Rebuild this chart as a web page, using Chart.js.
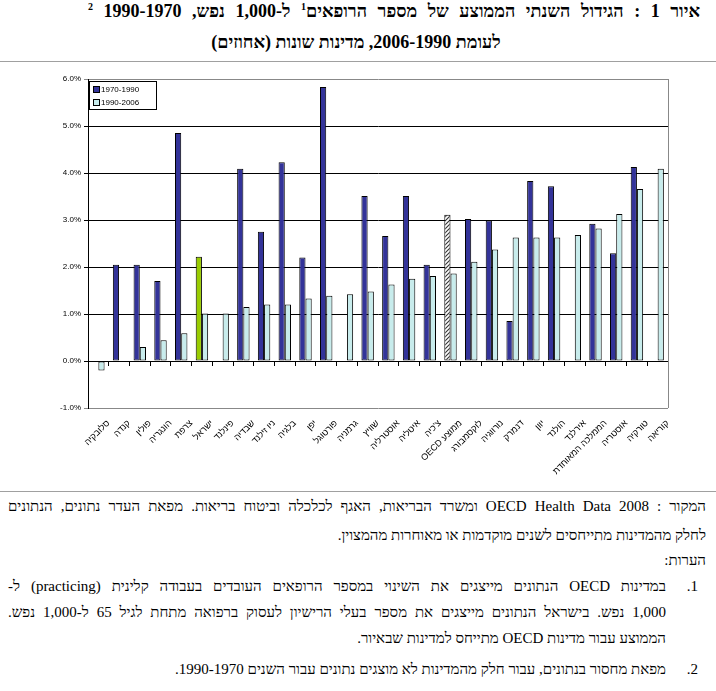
<!DOCTYPE html>
<html>
<head>
<meta charset="utf-8">
<script src="https://cdn.jsdelivr.net/npm/chart.js@4.4.0/dist/chart.umd.min.js"></script>
<style>
body{margin:0;width:716px;height:691px;background:#fff;position:relative;overflow:hidden;font-family:"Liberation Serif","DejaVu Serif",serif;color:#000}
.t{position:absolute;white-space:nowrap}
.j{position:absolute;text-align:justify;text-align-last:justify;white-space:nowrap}
.rule{position:absolute;left:0;width:716px;height:1px;background:#a0a0a0}
#box{position:absolute;left:0;top:62px;width:716px;height:428px}
.title{font-weight:bold;font-size:18px}
.body{font-size:15px}
</style>
</head>
<body>
<div class="j title" dir="rtl" style="left:88px;width:612px;top:1px">איור 1 : הגידול השנתי הממוצע של מספר הרופאים<sup style="font-size:10px">1</sup> ל-1,000 נפש, 1970&#x200F;-&#x200F;1990 <sup style="font-size:10px">2</sup></div>
<div class="t title" dir="rtl" style="left:0;width:712px;text-align:center;top:32px">לעומת 1990&#x200F;-&#x200F;2006, מדינות שונות (אחוזים)</div>
<div class="rule" style="top:61px"></div>
<div id="box"><canvas id="chart"></canvas></div>
<div class="rule" style="top:491px"></div>

<div class="j body" dir="rtl" style="left:8px;width:698px;top:498px">המקור : OECD Health Data 2008 ומשרד הבריאות, האגף לכלכלה וביטוח בריאות. מפאת העדר נתונים, הנתונים</div>
<div class="t body" dir="rtl" style="right:10px;top:527px">לחלק מהמדינות מתייחסים לשנים מוקדמות או מאוחרות מהמצוין.</div>
<div class="t body" dir="rtl" style="right:10px;top:552px">הערות:</div>
<div class="t body" dir="rtl" style="right:18px;top:578px">1.</div>
<div class="j body" dir="rtl" style="left:8px;width:658px;top:578px">במדינות OECD הנתונים מייצגים את השינוי במספר הרופאים העובדים בעבודה קלינית (practicing) ל-</div>
<div class="j body" dir="rtl" style="left:8px;width:658px;top:604px">1,000 נפש. בישראל הנתונים מייצגים את מספר בעלי הרישיון לעסוק ברפואה מתחת לגיל 65 ל-1,000 נפש.</div>
<div class="t body" dir="rtl" style="right:50px;top:630px">הממוצע עבור מדינות OECD מתייחס למדינות שבאיור.</div>
<div class="t body" dir="rtl" style="right:18px;top:661px">2.</div>
<div class="t body" dir="rtl" style="right:50px;top:661px">מפאת מחסור בנתונים, עבור חלק מהמדינות לא מוצגים נתונים עבור השנים 1970&#x200F;-&#x200F;1990.</div>

<script>
// countries, sorted by the 1990-2006 growth
var categories = ['סלובקיה', 'קנדה', 'פולין', 'הונגריה', 'צרפת', 'ישראל', 'פינלנד', 'שבדיה', 'ניו זילנד', 'בלגיה',
	'יפן', 'פורטוגל', 'גרמניה', 'שוויץ', 'אוסטרליה', 'איטליה', 'צ\'כיה', 'ממוצע OECD', 'לוקסמבורג', 'נורווגיה',
	'דנמרק', 'יוון', 'הולנד', 'אירלנד', 'הממלכה המאוחדת', 'אוסטריה', 'טורקיה', 'קוריאה'];

// average yearly growth (%)
var growth7090 = [null, 2.05, 2.05, 1.70, 4.85, 2.22, null, 4.09, 2.75, 4.23,
	2.20, 5.83, null, 3.51, 2.66, 3.51, 2.05, 3.11, 3.02, 2.99,
	0.85, 3.83, 3.72, null, 2.92, 2.29, 4.13, null];
var growth9006 = [-0.20, null, 0.30, 0.44, 0.59, 1.01, 1.01, 1.15, 1.20, 1.20,
	1.33, 1.39, 1.42, 1.48, 1.63, 1.75, 1.81, 1.86, 2.11, 2.37,
	2.63, 2.63, 2.63, 2.68, 2.82, 3.13, 3.66, 4.09];

var seriesNames = ['1970-1990', '1990-2006'];
var yTicks = [-1, 0, 1, 2, 3, 4, 5, 6];

var NAVY = '#333399';
var CYAN = '#c8ecec';
var GREEN = '#99cc00';

function hatch() {
	var c = document.createElement('canvas');
	c.width = 4; c.height = 4;
	var g = c.getContext('2d');
	g.fillStyle = '#fff';
	g.fillRect(0, 0, 4, 4);
	g.strokeStyle = '#333';
	g.lineWidth = 1.1;
	g.beginPath();
	g.moveTo(0, 4); g.lineTo(4, 0);
	g.moveTo(-1, 1); g.lineTo(1, -1);
	g.moveTo(3, 5); g.lineTo(5, 3);
	g.stroke();
	return g.createPattern(c, 'repeat');
}

var hatchFill = hatch();
var firstColors = categories.map(function(c) {
	if (c == 'ישראל') return GREEN;
	if (c == 'ממוצע OECD') return hatchFill;
	return NAVY;
});

var framePlugin = {
	id: 'frame',
	beforeDatasetsDraw: function(chart) {
		var a = chart.chartArea, c = chart.ctx;
		c.save();
		c.strokeStyle = '#888';
		c.lineWidth = 1;
		c.beginPath();
		c.moveTo(Math.round(a.right) + 0.5, a.top);
		c.lineTo(Math.round(a.right) + 0.5, a.bottom);
		c.stroke();
		c.restore();
	}
};

var boxLegend = {
	id: 'boxLegend',
	afterDraw: function(chart) {
		var a = chart.chartArea, c = chart.ctx;
		var x = Math.round(a.left) + 1, y = Math.round(a.top) + 2;
		c.save();
		c.fillStyle = '#fff';
		c.fillRect(x, y, 67, 28);
		c.strokeStyle = '#000';
		c.lineWidth = 1;
		c.strokeRect(x + 0.5, y + 0.5, 67, 28);
		c.font = '8px "Liberation Sans", Arial, sans-serif';
		c.textBaseline = 'middle';
		chart.data.datasets.forEach(function(ds, i) {
			var sy = y + 5 + i * 13;
			c.fillStyle = i == 0 ? NAVY : CYAN;
			c.fillRect(x + 4, sy, 6, 6);
			c.strokeRect(x + 4.5, sy + 0.5, 6, 6);
			c.fillStyle = '#000';
			c.fillText(ds.label, x + 12, sy + 4);
		});
		c.restore();
	}
};

var tickFont = {family: '"Liberation Sans", Arial, sans-serif', size: 8};

new Chart(document.getElementById('chart'), {
	type: 'bar',
	data: {
		labels: categories,
		datasets: [
			{label: seriesNames[0], data: growth7090, backgroundColor: firstColors, borderColor: '#000', borderWidth: 1, borderSkipped: false, categoryPercentage: 0.6, barPercentage: 1},
			{label: seriesNames[1], data: growth9006, backgroundColor: CYAN, borderColor: '#000', borderWidth: 1, borderSkipped: false, categoryPercentage: 0.6, barPercentage: 1}
		]
	},
	options: {
		responsive: true,
		maintainAspectRatio: false,
		animation: false,
		layout: {padding: {top: 17, right: 48, left: 0, bottom: 0}},
		plugins: {legend: {display: false}, tooltip: {enabled: false}},
		scales: {
			x: {
				ticks: {
					minRotation: 45, maxRotation: 45, autoSkip: false, color: '#000', padding: 2, labelOffset: 10,
					font: {family: '"Liberation Sans", Arial, sans-serif', size: 9},
					callback: function(v, i) { return '\u2067' + categories[i] + '\u2069'; }
				},
				grid: {display: false},
				border: {display: false},
				afterFit: function(s) { s.height = 82; }
			},
			x2: {
				type: 'category',
				labels: categories,
				position: {y: 0},
				offset: true,
				ticks: {display: false},
				grid: {drawOnChartArea: false, drawTicks: true, tickLength: 4, color: '#000', offset: true},
				border: {color: '#000'}
			},
			y: {
				min: yTicks[0],
				max: yTicks[yTicks.length - 1],
				afterBuildTicks: function(s) { s.ticks = yTicks.map(function(v) { return {value: v}; }); },
				ticks: {font: tickFont, color: '#000', padding: 3, callback: function(v) { return v.toFixed(1) + '%'; }},
				grid: {
					tickLength: 4,
					color: function(ctx) {
						if (ctx.tick && (ctx.tick.value == 6 || ctx.tick.value == -1)) return '#888';
						return '#000';
					}
				},
				border: {color: '#000'},
				afterFit: function(s) { s.width = 88; }
			}
		}
	},
	plugins: [framePlugin, boxLegend]
});
</script>
</body>
</html>
